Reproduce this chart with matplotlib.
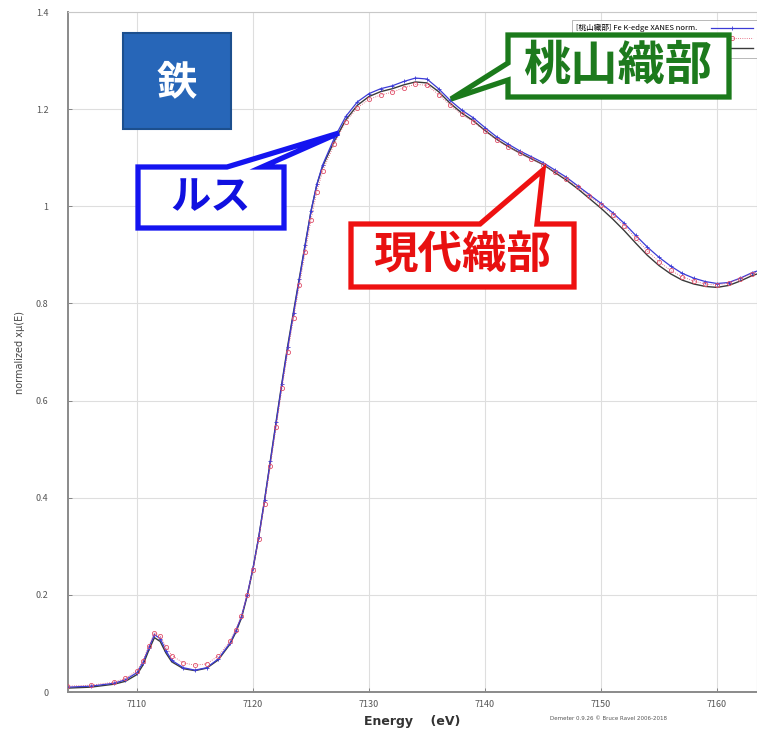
import matplotlib
matplotlib.use("Agg")
import matplotlib.pyplot as plt
from matplotlib.patches import Polygon, FancyBboxPatch

plt.rcParams['font.family'] = ['Noto Sans CJK JP', 'DejaVu Sans']

W, H = 757, 733

# Fe K-edge XANES, normalized absorption
energy = [7104, 7106, 7108, 7109, 7110, 7110.5, 7111, 7111.5, 7112, 7112.5,
          7113, 7114, 7115, 7116, 7117, 7118, 7118.5, 7119, 7119.5, 7120,
          7120.5, 7121, 7121.5, 7122, 7122.5, 7123, 7123.5, 7124, 7124.5, 7125,
          7125.5, 7126, 7127, 7128, 7129, 7130, 7131, 7132, 7133, 7134,
          7135, 7136, 7137, 7138, 7139, 7140, 7141, 7142, 7143, 7144,
          7145, 7146, 7147, 7148, 7149, 7150, 7151, 7152, 7153, 7154,
          7155, 7156, 7157, 7158, 7159, 7160, 7161, 7162, 7163, 7164]

mu_momoyama = [0.010, 0.012, 0.018, 0.025, 0.040, 0.060, 0.090, 0.118, 0.110, 0.085,
               0.065, 0.050, 0.045, 0.050, 0.068, 0.100, 0.125, 0.155, 0.200, 0.255,
               0.320, 0.395, 0.475, 0.555, 0.635, 0.710, 0.780, 0.850, 0.920, 0.990,
               1.045, 1.085, 1.140, 1.185, 1.215, 1.232, 1.242, 1.248, 1.257, 1.264,
               1.262, 1.242, 1.218, 1.198, 1.182, 1.162, 1.143, 1.128, 1.114, 1.102,
               1.090, 1.075, 1.060, 1.042, 1.024, 1.006, 0.987, 0.965, 0.940, 0.916,
               0.895, 0.877, 0.862, 0.852, 0.845, 0.841, 0.843, 0.852, 0.863, 0.871]

mu_gendai = [0.012, 0.014, 0.020, 0.028, 0.044, 0.064, 0.094, 0.122, 0.116, 0.093,
             0.075, 0.060, 0.055, 0.058, 0.074, 0.104, 0.128, 0.157, 0.200, 0.252,
             0.315, 0.388, 0.466, 0.546, 0.625, 0.700, 0.770, 0.838, 0.905, 0.972,
             1.030, 1.072, 1.128, 1.174, 1.203, 1.220, 1.229, 1.235, 1.244, 1.251,
             1.249, 1.230, 1.208, 1.189, 1.174, 1.155, 1.137, 1.122, 1.109, 1.097,
             1.086, 1.071, 1.057, 1.039, 1.021, 1.003, 0.983, 0.960, 0.934, 0.908,
             0.886, 0.868, 0.855, 0.846, 0.840, 0.838, 0.842, 0.851, 0.861, 0.869]

mu_rus = [0.008, 0.010, 0.016, 0.022, 0.036, 0.055, 0.085, 0.112, 0.104, 0.080,
          0.062, 0.048, 0.044, 0.049, 0.066, 0.098, 0.122, 0.152, 0.198, 0.254,
          0.320, 0.396, 0.477, 0.558, 0.638, 0.714, 0.784, 0.853, 0.922, 0.990,
          1.044, 1.082, 1.134, 1.178, 1.208, 1.226, 1.236, 1.242, 1.250, 1.256,
          1.254, 1.236, 1.212, 1.192, 1.176, 1.156, 1.138, 1.123, 1.110, 1.098,
          1.086, 1.070, 1.054, 1.036, 1.016, 0.996, 0.974, 0.950, 0.924, 0.899,
          0.878, 0.861, 0.848, 0.840, 0.835, 0.833, 0.837, 0.846, 0.857, 0.865]

legend_labels = ['[桃山織部] Fe K-edge XANES norm.', '[現代織部] Fe K-edge XANES norm.',
                 '[ルス] Fe K-edge XANES norm.']
x_ticks = [7110, 7120, 7130, 7140, 7150, 7160]
y_ticks = [0, 0.2, 0.4, 0.6, 0.8, 1, 1.2, 1.4]

fig = plt.figure(figsize=(W / 100, H / 100), dpi=100)
ax = fig.add_axes([68 / W, 41 / H, 689 / W, 680 / H])

ax.plot(energy, mu_momoyama, color='#3b3bd6', lw=0.9, marker='+', ms=3.5, mew=0.6,
        label=legend_labels[0], zorder=3)
ax.plot(energy, mu_gendai, color='#e0506a', lw=0.6, ls=':', marker='o', ms=3, mfc='none',
        mew=0.6, label=legend_labels[1], zorder=4)
ax.plot(energy, mu_rus, color='#3a3a3a', lw=1.0, label=legend_labels[2], zorder=2)

ax.set_xlim(7104.05, 7163.45)
ax.set_ylim(0, 1.4)
ax.set_xticks(x_ticks)
ax.set_xticklabels([str(v) for v in x_ticks])
ax.set_yticks(y_ticks)
ax.set_yticklabels(['0', '0.2', '0.4', '0.6', '0.8', '1', '1.2', '1.4'])
ax.tick_params(direction='in', length=3, width=0.6, colors='#777777', labelsize=6.5,
               labelcolor='#555555', pad=6)
ax.tick_params(axis='y', pad=14)
ax.grid(True, color='#dedede', lw=0.8)
for side in ['left', 'bottom']:
    ax.spines[side].set_color('#8a8a8a')
    ax.spines[side].set_linewidth(1.4)
for side in ['top', 'right']:
    ax.spines[side].set_color('#c8c8c8')
    ax.spines[side].set_linewidth(0.8)

ax.set_xlabel('Energy    (eV)', fontsize=9, fontweight='bold', color='#333333', labelpad=4,
              family=['DejaVu Sans'])
ax.set_ylabel('normalized xμ(E)', fontsize=7, color='#444444', labelpad=8,
              family=['DejaVu Sans'])
fig.text(550 / W, 1 - 718 / H, 'Demeter 0.9.26 © Bruce Ravel 2006-2018', fontsize=4,
         color='#555555', family=['DejaVu Sans'], va='center')

leg = fig.legend(loc='upper left', bbox_to_anchor=(568 / W, 1 - 16 / H), fontsize=5.5,
                 frameon=True, fancybox=False, edgecolor='#999999', handlelength=5.5,
                 borderpad=0.6, labelspacing=0.3, markerfirst=False, handletextpad=1.8)
leg.get_frame().set_linewidth(0.6)
leg.set_zorder(5)


def fp(x, y):
    return (x / W, 1 - y / H)


def callout(points, edge, text, tx, ty, tcolor, size):
    poly = Polygon([fp(x, y) for x, y in points], closed=True, transform=fig.transFigure,
                   facecolor='white', edgecolor=edge, lw=3.8, joinstyle='miter', zorder=10)
    fig.add_artist(poly)
    fig.text(tx / W, 1 - ty / H, text, fontsize=size, fontweight='bold', color=tcolor,
             ha='center', va='center', zorder=11)


# Title tag
tag = FancyBboxPatch(fp(123, 129), 108 / W, 96 / H, boxstyle='square,pad=0',
                     transform=fig.transFigure, facecolor='#2766b8', edgecolor='#1c4f8e',
                     lw=1.5, zorder=10)
fig.add_artist(tag)
fig.text(177 / W, 1 - 83 / H, '鉄', fontsize=29, fontweight='bold', color='white',
         ha='center', va='center', zorder=11)

callout([(138, 167), (227, 167), (339, 133), (262, 167), (284, 167), (284, 228), (138, 228)],
        '#1414f0', 'ルス', 211, 198, '#1010e0', 29)

callout([(351, 224), (480, 224), (543, 170), (537, 224), (574, 224), (574, 287), (351, 287)],
        '#ee1111', '現代織部', 462, 256, '#e81010', 32)

callout([(508, 35), (729, 35), (729, 97), (508, 97), (508, 80), (451, 99), (508, 63)],
        '#1b7a1b', '桃山織部', 618, 66, '#1d7a1d', 34)

fig.savefig('out.png', dpi=100)
